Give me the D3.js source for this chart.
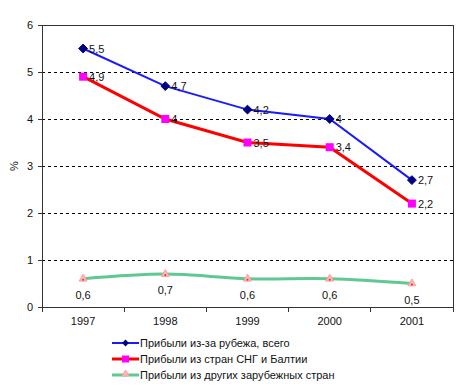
<!DOCTYPE html>
<html>
<head>
<meta charset="utf-8">
<script src="https://cdn.jsdelivr.net/npm/d3@7"></script>
<style>
  body { margin: 0; background: #fff; }
  svg { display: block; font-family: "Liberation Sans", Arial, sans-serif; }
</style>
</head>
<body>
<div id="chart"></div>
<script>
// Chart data
const years = ["1997", "1998", "1999", "2000", "2001"];
const totalAbroad = [5.5, 4.7, 4.2, 4, 2.7];
const cisBaltic = [4.9, 4, 3.5, 3.4, 2.2];
const otherForeign = [0.6, 0.7, 0.6, 0.6, 0.5];
const seriesNames = [
  "Прибыли из-за рубежа, всего",
  "Прибыли из стран СНГ и Балтии",
  "Прибыли из других зарубежных стран"
];
const yTicks = [0, 1, 2, 3, 4, 5, 6];

const W = 468, H = 388;
const margin = { top: 25, right: 15, bottom: 81, left: 42 };
const width = W - margin.left - margin.right;
const height = H - margin.top - margin.bottom;

const svg = d3.select("#chart").append("svg")
  .attr("width", W).attr("height", H);
const g = svg.append("g")
  .attr("transform", "translate(" + margin.left + "," + margin.top + ")");

const x = d3.scaleBand().domain(years).range([0, width]);
const y = d3.scaleLinear().domain([0, 6]).range([height, 0]);
const cx = d => x(d) + x.bandwidth() / 2;

// dashed gridlines
g.selectAll(".grid").data(yTicks.filter(t => t > 0 && t < 6)).enter()
  .append("line")
  .attr("x1", 0).attr("x2", width)
  .attr("y1", d => y(d)).attr("y2", d => y(d))
  .attr("stroke", "#000").attr("stroke-dasharray", "3,3")
  .attr("shape-rendering", "crispEdges");

// frame top + right
g.append("path")
  .attr("d", "M0," + y(6) + "H" + width + "V" + height)
  .attr("fill", "none").attr("stroke", "#333")
  .attr("shape-rendering", "crispEdges");

// axes
const yAxis = g.append("g")
  .call(d3.axisLeft(y).tickValues(yTicks).tickFormat(d3.format("d")).tickSize(4).tickPadding(5));
const xAxis = g.append("g")
  .attr("transform", "translate(0," + height + ")")
  .call(d3.axisBottom(x).tickSize(0).tickPadding(10));
// x tick marks at category boundaries
xAxis.selectAll(".bound").data(years.concat(["end"])).enter()
  .append("line").attr("class", "bound")
  .attr("x1", (d, i) => i * x.bandwidth()).attr("x2", (d, i) => i * x.bandwidth())
  .attr("y1", 0).attr("y2", 5).attr("stroke", "#333")
  .attr("shape-rendering", "crispEdges");
[yAxis, xAxis].forEach(a => {
  a.select(".domain").attr("stroke", "#333").attr("shape-rendering", "crispEdges");
  a.selectAll(".tick line").attr("stroke", "#333").attr("shape-rendering", "crispEdges");
  a.selectAll("text").style("font-size", "11px").style("font-family", '"Liberation Sans", Arial, sans-serif').attr("fill", "#111");
});

// y label
svg.append("text")
  .attr("transform", "translate(18," + (margin.top + height / 2) + ") rotate(-90)")
  .attr("text-anchor", "middle")
  .style("font-size", "11px").attr("fill", "#111")
  .text("%");

const fmt = v => String(v).replace(".", ",");

// lines
const line = d3.line().x((d, i) => cx(years[i])).y(d => y(d));
const smooth = d3.line().x((d, i) => cx(years[i])).y(d => y(d)).curve(d3.curveCatmullRom.alpha(0.5));

g.append("path").datum(otherForeign).attr("d", smooth)
  .attr("fill", "none").attr("stroke", "#5fc893").attr("stroke-width", 3);
g.append("path").datum(cisBaltic).attr("d", line)
  .attr("fill", "none").attr("stroke", "#ff0000").attr("stroke-width", 3);
g.append("path").datum(totalAbroad).attr("d", line)
  .attr("fill", "none").attr("stroke", "#1a1aff").attr("stroke-width", 2);

// markers
const diamond = d3.symbol().type(d3.symbolDiamond2).size(50);
const tri = d3.symbol().type(d3.symbolTriangle2).size(45);

g.selectAll(".m1").data(totalAbroad).enter().append("path")
  .attr("d", diamond)
  .attr("transform", (d, i) => "translate(" + cx(years[i]) + "," + y(d) + ")")
  .attr("fill", "#000080").attr("stroke", "#000080").attr("stroke-width", 1);
g.selectAll(".m2").data(cisBaltic).enter().append("rect")
  .attr("x", (d, i) => cx(years[i]) - 4).attr("y", d => y(d) - 4)
  .attr("width", 8).attr("height", 8).attr("fill", "#ff00ff");
g.selectAll(".m3").data(otherForeign).enter().append("path")
  .attr("d", tri)
  .attr("transform", (d, i) => "translate(" + cx(years[i]) + "," + y(d) + ")")
  .attr("fill", "#ffb8b8").attr("stroke", "#ff9c9c").attr("stroke-width", 1);
g.selectAll(".m3dot").data(otherForeign).enter().append("circle")
  .attr("cx", (d, i) => cx(years[i])).attr("cy", d => y(d) + 1)
  .attr("r", 1).attr("fill", "#e03030");

// data labels
function labels(data, dx, dy, anchor) {
  g.selectAll(null).data(data).enter().append("text")
    .attr("x", (d, i) => cx(years[i]) + dx).attr("y", d => y(d) + dy)
    .attr("text-anchor", anchor)
    .style("font-size", "11px").attr("fill", "#111")
    .text(fmt);
}
labels(totalAbroad, 6, 4, "start");
labels(cisBaltic, 6, 4, "start");
labels(otherForeign, 0, 20, "middle");

// legend
const legend = svg.append("g").attr("transform", "translate(112,343)");
const leg = [
  { name: seriesNames[0], color: "#1a1aff", w: 2, mark: "d" },
  { name: seriesNames[1], color: "#ff0000", w: 3, mark: "s" },
  { name: seriesNames[2], color: "#5fc893", w: 3, mark: "t" }
];
leg.forEach((s, i) => {
  const row = legend.append("g").attr("transform", "translate(0," + i * 16 + ")");
  row.append("line").attr("x1", 0).attr("x2", 27).attr("y1", 0).attr("y2", 0)
    .attr("stroke", s.color).attr("stroke-width", s.w);
  if (s.mark === "d") {
    row.append("path").attr("d", d3.symbol().type(d3.symbolDiamond2).size(30))
      .attr("transform", "translate(13.5,0)").attr("fill", "#000080");
  } else if (s.mark === "s") {
    row.append("rect").attr("x", 10).attr("y", -3.5).attr("width", 7).attr("height", 7).attr("fill", "#ff00ff");
  } else {
    row.append("path").attr("d", d3.symbol().type(d3.symbolTriangle2).size(35))
      .attr("transform", "translate(13.5,-1)").attr("fill", "#ffb8b8").attr("stroke", "#ff9c9c");
  }
  row.append("text").attr("x", 28).attr("y", 4)
    .style("font-size", "11px").attr("fill", "#111").text(s.name);
});
</script>
</body>
</html>
